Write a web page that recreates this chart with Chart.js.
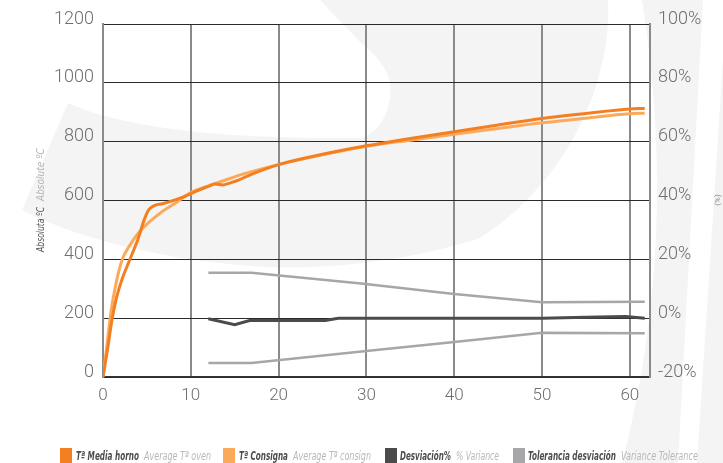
<!DOCTYPE html>
<html><head><meta charset="utf-8">
<script src="https://cdn.jsdelivr.net/npm/chart.js@4/dist/chart.umd.min.js"></script>
<style>html,body{margin:0;padding:0;background:#fff;}canvas{display:block;}</style>
</head><body>
<canvas id="c" width="723" height="463"></canvas>
<script>
// ---- data ----
const xTicks = [0, 10, 20, 30, 40, 50, 60];
const leftTicks = [0, 200, 400, 600, 800, 1000, 1200];
const rightTicks = [-20, 0, 20, 40, 60, 80, 100];

const ovenX = [0, 0.5, 1.0, 1.5, 2.2, 3.0, 4.0, 4.7, 5.2, 5.8, 6.8, 8.0, 8.7, 10.2, 12.0, 12.8, 13.6, 14.5, 15.5, 16.5, 20, 25, 30, 35, 40, 45, 50, 55, 60, 61.7];
const ovenY = [0, 90, 190, 265, 335, 395, 470, 535, 568, 582, 589, 600, 607, 626, 648, 656, 653, 660, 670, 684, 722, 757, 786, 811, 834, 857, 879, 896, 911, 913];

const consX = [0, 0.5, 0.9, 1.5, 2.2, 3.0, 4.1, 5.0, 6.0, 7.0, 8.3, 10, 12, 13.2, 16.2, 20, 25, 30, 35, 40, 45, 50, 55, 60, 61.7];
const consY = [0, 120, 220, 320, 400, 445, 492, 520, 545, 568, 592, 627, 650, 662, 692, 722, 755, 784, 805, 825, 845, 864, 880, 895, 897];

const devX = [12, 15, 16.7, 25.3, 26.8, 50, 55, 59.5, 61.7];
const devY = [-0.2, -2.2, -0.8, -0.8, 0, 0, 0.3, 0.6, 0];

const tolUpX = [12, 16.9, 29.4, 40, 50, 61.7];
const tolUpY = [15.4, 15.4, 11.8, 8.2, 5.4, 5.6];
const tolLowX = [12, 16.9, 30, 40, 50, 61.7];
const tolLowY = [-15.2, -15.2, -11.2, -8.1, -5.0, -5.1];

const legendMain = ["Tª Media horno", "Tª Consigna", "Desviación%", "Tolerancia desviación"];
const legendSub = ["Average Tª oven", "Average Tª consign", "% Variance", "Variance Tolerance"];
const leftTitle = ["Absoluta ºC", "Absolute ºC"];
const rightTitle = "(%)";

const C_OVEN = '#f47f20', C_CONS = '#fbaa5c', C_DEV = '#4b4b4b', C_TOL = '#a7a7a9';
const legendColors = [C_OVEN, C_CONS, C_DEV, C_TOL];

const pts = (xs, ys) => xs.map((x, i) => ({x, y: ys[i]}));

const FONT = 'Roboto';
const tickFont = {family: FONT, size: 18, weight: '300'};

const bgPlugin = {
  id: 'bg',
  beforeDraw(chart) {
    const ctx = chart.ctx;
    ctx.save();
    ctx.fillStyle = '#f4f4f4';
    ctx.beginPath();
    ctx.moveTo(22, 210);
    ctx.lineTo(68, 103);
    ctx.quadraticCurveTo(150, 140, 361, 138);
    ctx.bezierCurveTo(385, 132, 396, 95, 388, 75);
    ctx.quadraticCurveTo(378, 55, 361, 43);
    ctx.lineTo(320, 0);
    ctx.lineTo(608, 0);
    ctx.bezierCurveTo(612, 80, 570, 180, 480, 238);
    ctx.bezierCurveTo(420, 258, 330, 272, 250, 266);
    ctx.bezierCurveTo(150, 258, 70, 235, 22, 210);
    ctx.closePath();
    ctx.fill();
    ctx.beginPath();
    ctx.moveTo(642, 0);
    ctx.lineTo(723, 0);
    ctx.lineTo(723, 463);
    ctx.lineTo(622, 463);
    ctx.quadraticCurveTo(680, 240, 642, 0);
    ctx.closePath();
    ctx.fill();
    ctx.fillStyle = '#ffffff';
    ctx.beginPath();
    ctx.moveTo(703, 0);
    ctx.lineTo(723, 0);
    ctx.lineTo(723, 60);
    ctx.lineTo(697, 463);
    ctx.lineTo(678, 463);
    ctx.closePath();
    ctx.fill();
    ctx.restore();
  }
};

const textPlugin = {
  id: 'texts',
  afterDraw(chart) {
    const ctx = chart.ctx;
    ctx.save();
    ctx.translate(44, 252);
    ctx.rotate(-Math.PI / 2);
    ctx.textBaseline = 'alphabetic';
    ctx.textAlign = 'left';
    ctx.font = 'italic 10px "DejaVu Sans Condensed", Roboto, sans-serif';
    ctx.fillStyle = '#555';
    ctx.fillText(leftTitle[0], 0, 0, 45);
    ctx.fillStyle = '#b4b4b4';
    ctx.fillText(leftTitle[1], 51, 0, 53);
    ctx.restore();
    ctx.save();
    ctx.translate(720, 200);
    ctx.rotate(-Math.PI / 2);
    ctx.textAlign = 'center';
    ctx.font = '8px Roboto, sans-serif';
    ctx.fillStyle = '#888';
    ctx.fillText(rightTitle, 0, 0);
    ctx.restore();
    ctx.save();
    const sqX = [60, 223, 385, 513];
    const mainX = [76, 239, 400, 528], mainW = [63, 49, 51, 88];
    const subX = [144, 293, 456, 621], subW = [67, 78, 43, 77];
    ctx.textBaseline = 'alphabetic';
    ctx.textAlign = 'left';
    for (let i = 0; i < 4; i++) {
      ctx.fillStyle = legendColors[i];
      ctx.fillRect(sqX[i], 448, 12, 15);
      ctx.font = 'italic 600 12px "DejaVu Sans Condensed", Roboto, sans-serif';
      ctx.fillStyle = '#4d4d4d';
      ctx.fillText(legendMain[i], mainX[i], 460, mainW[i]);
      ctx.font = 'italic 12px "DejaVu Sans Condensed", Roboto, sans-serif';
      ctx.fillStyle = '#b8b8b8';
      ctx.fillText(legendSub[i], subX[i], 460, subW[i]);
    }
    ctx.restore();
  }
};

new Chart(document.getElementById('c'), {
  type: 'line',
  data: {
    datasets: [
      {label: legendMain[0], data: pts(ovenX, ovenY), yAxisID: 'y', borderColor: C_OVEN, borderWidth: 3, pointRadius: 0, cubicInterpolationMode: 'monotone', fill: false},
      {label: legendMain[1], data: pts(consX, consY), yAxisID: 'y', borderColor: C_CONS, borderWidth: 3, pointRadius: 0, cubicInterpolationMode: 'monotone', fill: false},
      {label: legendMain[2], data: pts(devX, devY), yAxisID: 'y2', borderColor: C_DEV, borderWidth: 3, pointRadius: 0, tension: 0, fill: false},
      {label: legendMain[3], data: pts(tolUpX, tolUpY), yAxisID: 'y2', borderColor: C_TOL, borderWidth: 2.5, pointRadius: 0, tension: 0, fill: false},
      {label: legendMain[3] + ' ', data: pts(tolLowX, tolLowY), yAxisID: 'y2', borderColor: C_TOL, borderWidth: 2.5, pointRadius: 0, tension: 0, fill: false}
    ]
  },
  options: {
    responsive: false,
    devicePixelRatio: 1,
    animation: false,
    layout: {padding: {top: 24, left: 0, right: 0, bottom: 0}},
    plugins: {legend: {display: false}, tooltip: {enabled: false}},
    scales: {
      x: {
        type: 'linear', min: 0, max: 62.3,
        afterBuildTicks(s) { s.ticks = xTicks.map(v => ({value: v})); },
        afterFit(s) { s.height = 86; },
        ticks: {includeBounds: false, stepSize: 10, padding: 9, color: '#6e6e6e', font: {family: FONT, size: 17, weight: '300'}, maxRotation: 0, callback: v => String(v)},
        grid: {color: '#8a8a8a', lineWidth: 2, drawTicks: false},
        border: {color: '#333', width: 1.5}
      },
      y: {
        type: 'linear', position: 'left', min: 0, max: 1200,
        afterBuildTicks(s) { s.ticks = leftTicks.map(v => ({value: v})); },
        afterFit(s) { s.width = 103; },
        ticks: {padding: 9, color: '#6e6e6e', font: tickFont, labelOffset: -5, callback: v => String(v)},
        grid: {color: '#2a2a2a', lineWidth: 1, drawTicks: false},
        border: {color: '#8a8a8a', width: 2}
      },
      y2: {
        type: 'linear', position: 'right', min: -20, max: 100,
        afterBuildTicks(s) { s.ticks = rightTicks.map(v => ({value: v})); },
        afterFit(s) { s.width = 73; },
        ticks: {padding: 8, color: '#6e6e6e', font: tickFont, labelOffset: -5, callback: v => v + '%'},
        grid: {display: false, drawTicks: false},
        border: {color: '#8a8a8a', width: 2}
      }
    }
  },
  plugins: [bgPlugin, textPlugin]
});
</script>
</body></html>
